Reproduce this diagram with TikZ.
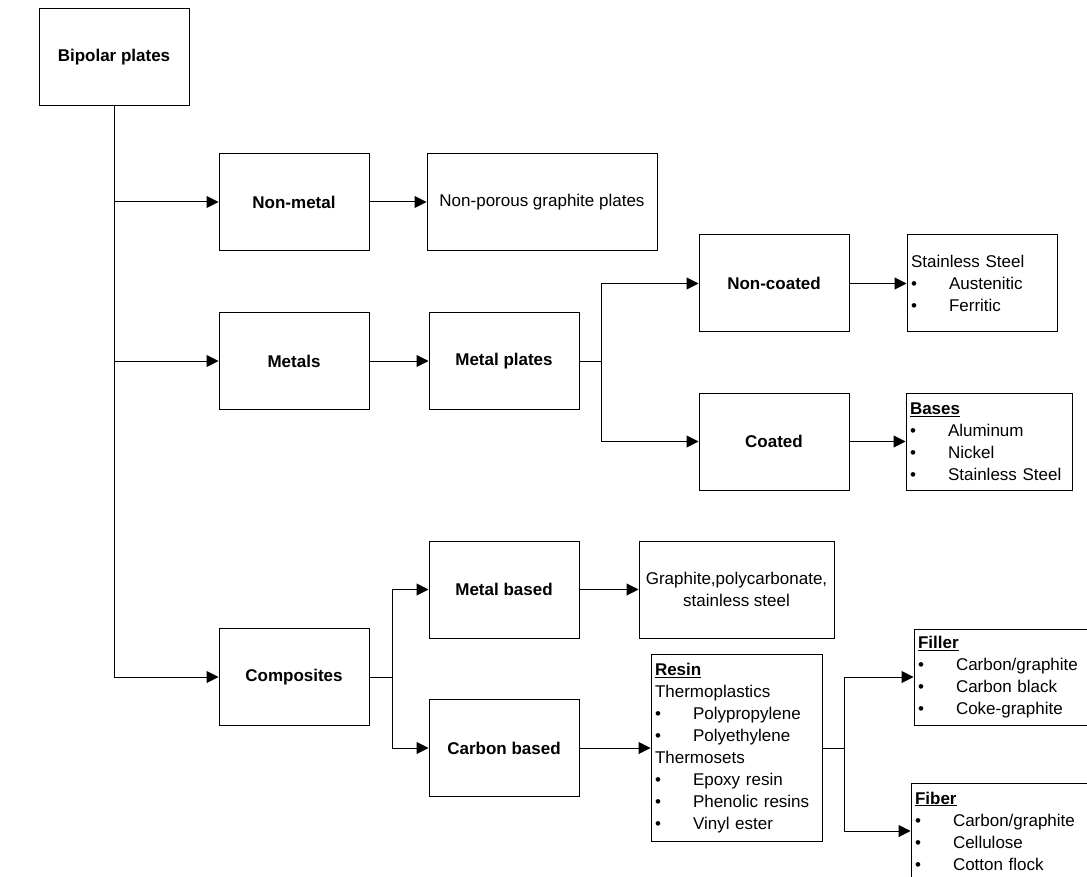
\documentclass[tikz,border=0pt]{standalone}
\usepackage{fontspec}
\setmainfont{Liberation Sans}
\usetikzlibrary{arrows.meta}
\newcommand{\bul}[1]{\makebox[38pt][l]{\textbullet}#1}
\newcommand{\hd}[1]{\underline{\textbf{#1}}}
\begin{document}
\fontsize{17}{22}\selectfont
\begin{tikzpicture}[x=1pt,y=-1pt,
		box/.style={draw,line width=1pt,minimum width=150pt,minimum height=97pt,inner sep=2pt,font=\bfseries},
		lst/.style={draw,line width=1pt,inner xsep=4pt,inner ysep=2pt,align=left},
		arr/.style={line width=1pt,-{Triangle[length=12pt,width=12pt]}}]
		\clip (0,0) rectangle (1087,877);
		\foreach \n/\x/\y/\t in {
				bip/114/57/Bipolar plates,
				nonmetal/294/202/Non-metal,
				metals/294/361/Metals,
				plates/504/361/Metal plates,
				noncoated/774/283.5/Non-coated,
				coated/774/441.5/Coated,
				composites/294/677/Composites,
				metalbased/504/589.5/Metal based,
				carbonbased/504/748/Carbon based
			}
		\node[box](\n) at(\x,\y){\t};
		\node[box,minimum width=230pt,font=\mdseries](nonporous) at(542,202){Non-porous graphite plates};
		\node[box,minimum width=195pt,font=\mdseries,align=center](graphite) at(736.5,589.5){Graphite,polycarbonate,\\stainless steel};
		\node[lst,text width=142pt,minimum height=97pt](stainless) at(982,283.5){Stainless Steel\\\bul{Austenitic}\\\bul{Ferritic}};
		\node[lst,text width=158pt,minimum height=97pt](bases) at(989,441.5){\hd{Bases}\\\bul{Aluminum}\\\bul{Nickel}\\\bul{Stainless Steel}};
		\node[lst,text width=163pt,minimum height=187pt](resin) at(736.5,748){\hd{Resin}\\Thermoplastics\\\bul{Polypropylene}\\\bul{Polyethylene}\\Thermosets\\\bul{Epoxy resin}\\\bul{Phenolic resins}\\\bul{Vinyl ester}};
		\node[lst,text width=192pt,minimum height=96pt](filler) at(1014,677){\hd{Filler}\\\bul{Carbon/graphite}\\\bul{Carbon black}\\\bul{Coke-graphite}};
		\node[lst,text width=192pt,minimum height=96pt](fiber) at(1011,831){\hd{Fiber}\\\bul{Carbon/graphite}\\\bul{Cellulose}\\\bul{Cotton flock}};
		\draw[arr](bip.south) |- (composites.west);
		\foreach \t in {nonmetal,metals}
		\draw[arr](bip.south|-\t.west) -- (\t.west);
		\draw[arr](nonmetal.east) -- (nonporous.west);
		\draw[arr](metals.east) -- (plates.west);
		\coordinate (pj) at([xshift=22pt]plates.east);
		\draw[line width=1pt](plates.east) -- (pj);
		\foreach \t in {noncoated,coated}
		\draw[arr](pj) |- (\t.west);
		\draw[arr](noncoated.east) -- (stainless.west);
		\draw[arr](coated.east) -- (bases.west);
		\coordinate (cj) at([xshift=23pt]composites.east);
		\draw[line width=1pt](composites.east) -- (cj);
		\foreach \t in {metalbased,carbonbased}
		\draw[arr](cj) |- (\t.west);
		\draw[arr](metalbased.east) -- (graphite.west);
		\draw[arr](carbonbased.east) -- (resin.west);
		\coordinate (rj) at([xshift=22pt]resin.east);
		\draw[line width=1pt](resin.east) -- (rj);
		\foreach \t in {filler,fiber}
		\draw[arr](rj) |- (\t.west);
	\end{tikzpicture}
\end{document}
